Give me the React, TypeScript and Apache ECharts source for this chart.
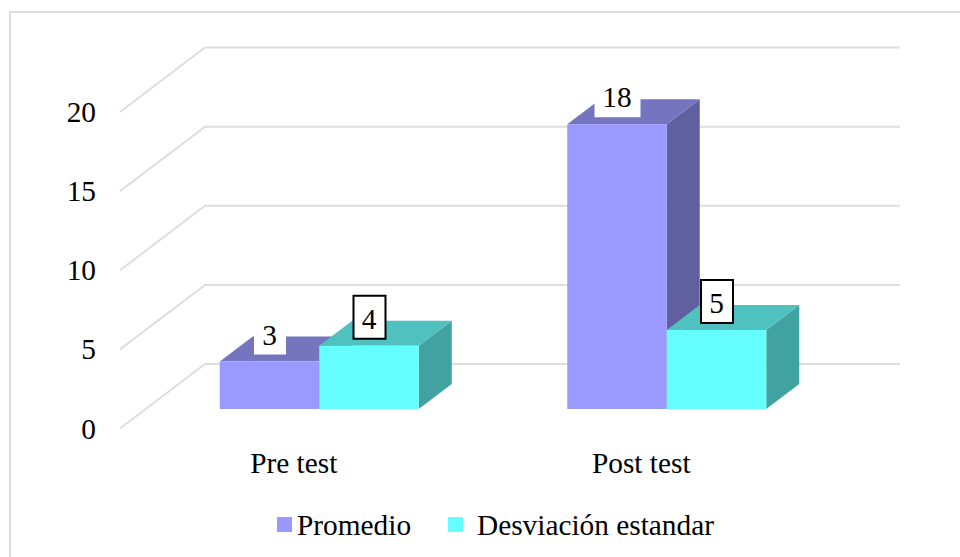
import React, { useEffect, useRef } from "react";
import * as echarts from "echarts";

const categories = ["Pre test", "Post test"];
const promedio = [3, 18];
const desviacion = [4, 5];
const yTicks = [0, 5, 10, 15, 20];

const FONT = "'Liberation Serif', 'Times New Roman', serif";
const FONT_SIZE = 29.33;
const BAR_FRACTION = 99.5 / 347.5;
const SHIFT_X = 25.5;
const SHIFT_Y = -19.5;
const DEPTH_X = 33;
const DEPTH_Y = -25;
const WALL_X = 85;
const WALL_Y = -64.5;
const GRID_COLOR = "#dedede";

type Palette = { front: string; top: string; side: string };
const PURPLE: Palette = { front: "#9999ff", top: "#7575bf", side: "#6060a0" };
const CYAN: Palette = { front: "#66ffff", top: "#4fc2c0", side: "#40a3a1" };

function bar3d(palette: Palette, slot: number, boxed: boolean, boxWidth: (v: number) => number) {
  return (_params: any, api: any) => {
    const idx = api.value(0);
    const val = api.value(1);
    const band = api.size([1, 0])[0];
    const w = band * BAR_FRACTION;
    const base = api.coord([idx, 0]);
    const head = api.coord([idx, val]);
    const x0 = base[0] + SHIFT_X + (slot - 1) * w;
    const x1 = x0 + w;
    const yb = base[1] + SHIFT_Y;
    const yt = head[1] + SHIFT_Y;
    const cx = (x0 + x1) / 2 + 0.5;
    const boxH = 43;
    const boxBottom = yt - 7;
    return {
      type: "group",
      children: [
        {
          type: "polygon",
          shape: { points: [[x1, yt], [x1 + DEPTH_X, yt + DEPTH_Y], [x1 + DEPTH_X, yb + DEPTH_Y], [x1, yb]] },
          style: { fill: palette.side },
        },
        {
          type: "polygon",
          shape: { points: [[x0, yt], [x0 + DEPTH_X, yt + DEPTH_Y], [x1 + DEPTH_X, yt + DEPTH_Y], [x1, yt]] },
          style: { fill: palette.top },
        },
        {
          type: "rect",
          shape: { x: x0, y: yt, width: w, height: yb - yt },
          style: { fill: palette.front },
        },
        {
          type: "rect",
          shape: { x: cx - boxWidth(val) / 2, y: boxBottom - boxH, width: boxWidth(val), height: boxH },
          style: { fill: "#ffffff", stroke: boxed ? "#000000" : "none", lineWidth: boxed ? 2 : 0 },
        },
        {
          type: "text",
          style: {
            text: String(val),
            x: cx - 0.5,
            y: boxBottom - boxH / 2 + 1.5,
            align: "center",
            verticalAlign: "middle",
            fontFamily: FONT,
            fontSize: FONT_SIZE,
            fill: "#000000",
          },
        },
      ],
    };
  };
}

const labelBox = (v: number) => (v >= 10 ? 46 : 32);

export default function App() {
  const ref = useRef<HTMLDivElement>(null);
  useEffect(() => {
    const chart = echarts.init(ref.current!, null, { renderer: "svg" });
    chart.setOption({
      animation: false,
      backgroundColor: "#ffffff",
      grid: { left: 120, right: 145, top: 112, bottom: 128.5 },
      legend: [
        {
          data: ["Promedio"],
          left: 272,
          top: 505,
          icon: "rect",
          itemWidth: 15,
          itemHeight: 15,
          itemGap: 0,
          selectedMode: false,
          textStyle: { fontFamily: FONT, fontSize: FONT_SIZE, color: "#000000" },
        },
        {
          data: ["Desviación estandar"],
          left: 443,
          top: 505,
          icon: "rect",
          itemWidth: 15,
          itemHeight: 15,
          itemGap: 0,
          selectedMode: false,
          textStyle: { fontFamily: FONT, fontSize: FONT_SIZE, color: "#000000", padding: [0, 0, 0, 9] },
        },
      ],
      xAxis: {
        type: "category",
        data: categories,
        axisLine: { show: false },
        axisTick: { show: false },
        axisLabel: { fontFamily: FONT, fontSize: FONT_SIZE, color: "#000000", margin: 20 },
      },
      yAxis: {
        type: "value",
        min: 0,
        max: 20,
        interval: 5,
        axisLine: { show: false },
        axisTick: { show: false },
        splitLine: { show: false },
        axisLabel: { fontFamily: FONT, fontSize: FONT_SIZE, color: "#000000", margin: 24 },
      },
      graphic: [
        {
          type: "polyline",
          silent: true,
          shape: { points: [[10, 557], [10, 12], [960, 12]] },
          style: { stroke: "#dcdcdc", lineWidth: 2, fill: "none" },
        },
      ],
      series: [
        {
          type: "custom",
          name: "wall",
          silent: true,
          z: 1,
          coordinateSystem: "cartesian2d",
          encode: { x: 0, y: 1 },
          data: yTicks.map((t) => [categories[0], t]),
          renderItem: (params: any, api: any) => {
            const cs = params.coordSys;
            const y = api.coord([0, api.value(1)])[1];
            return {
              type: "polyline",
              shape: {
                points: [[cs.x, y], [cs.x + WALL_X, y + WALL_Y], [cs.x + cs.width + WALL_X, y + WALL_Y]],
              },
              style: { stroke: GRID_COLOR, lineWidth: 2, fill: "none" },
            };
          },
        },
        {
          type: "custom",
          name: "Promedio",
          z: 2,
          coordinateSystem: "cartesian2d",
          encode: { x: 0, y: 1 },
          itemStyle: { color: PURPLE.front },
          data: categories.map((c, i) => [c, promedio[i]]),
          renderItem: bar3d(PURPLE, 0, false, labelBox),
        },
        {
          type: "custom",
          name: "Desviación estandar",
          z: 3,
          coordinateSystem: "cartesian2d",
          encode: { x: 0, y: 1 },
          itemStyle: { color: CYAN.front },
          data: categories.map((c, i) => [c, desviacion[i]]),
          renderItem: bar3d(CYAN, 1, true, labelBox),
        },
      ],
    });
    return () => chart.dispose();
  }, []);
  return <div ref={ref} style={{ position: "fixed", left: 0, top: 0, width: 960, height: 557 }} />;
}
